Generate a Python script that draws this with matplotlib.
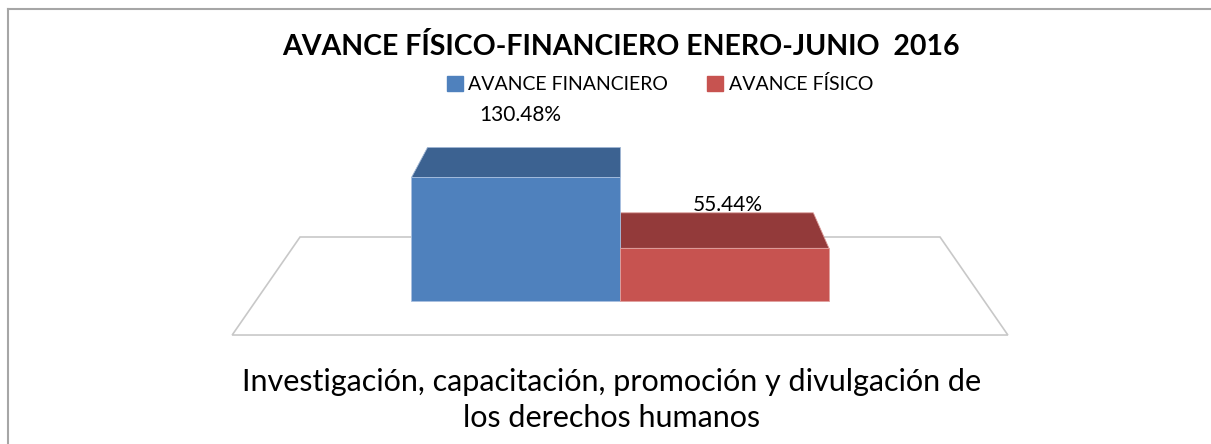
import matplotlib.pyplot as plt
from matplotlib.patches import Polygon, Patch
from matplotlib.lines import Line2D

plt.rcParams['font.family'] = ['Lato', 'DejaVu Sans']

# datos
titulo = 'AVANCE FÍSICO-FINANCIERO ENERO-JUNIO  2016'
categoria = 'Investigación, capacitación, promoción y divulgación de\nlos derechos humanos'
series = ['AVANCE FINANCIERO', 'AVANCE FÍSICO']
valores = [130.48, 55.44]
etiquetas = ['130.48%', '55.44%']

colores = ['#4f81bd', '#c75350']
colores_top = ['#3c6291', '#933a3a']

W, H = 1211, 444
fig = plt.figure(figsize=(W / 100, H / 100), dpi=100)
ax = fig.add_axes([0, 0, 1, 1])
ax.set_xlim(-2.967, 2.828)
ax.set_ylim(-150.5, 316.8)
ax.axis('off')

# proyeccion simple hacia un punto de fuga
vp = (0.0, 553.7)


def atras(x, y, k):
    return (vp[0] + k * (x - vp[0]), vp[1] + k * (y - vp[1]))


# piso
piso_x, piso_y, k_piso = 1.856, -35.8, 0.825
piso = [(-piso_x, piso_y), (piso_x, piso_y),
        atras(piso_x, piso_y, k_piso), atras(-piso_x, piso_y, k_piso)]
ax.add_patch(Polygon(piso, closed=True, facecolor='white', edgecolor='#c8c8c8',
                     lw=1.2, zorder=1))

# barras
k_bar = 0.925
x0s = [-1, 0]
for i, v in enumerate(valores):
    x0, x1 = x0s[i], x0s[i] + 1
    tapa = [(x0, v), (x1, v), atras(x1, v, k_bar), atras(x0, v, k_bar)]
    ax.add_patch(Polygon(tapa, closed=True, facecolor=colores_top[i],
                         edgecolor='#9fb5d3' if i == 0 else '#d99896', lw=0.6, zorder=2))
    ax.bar(x0, v, width=1, align='edge', color=colores[i],
           edgecolor='#a9c0e0' if i == 0 else '#e0a09e', lw=0.6, zorder=3)

# etiquetas de datos
dys = [62, 43]
dxs = [5, 3]
for i, v in enumerate(valores):
    ax.annotate(etiquetas[i], (x0s[i] + 0.5, v), xytext=(dxs[i], dys[i]),
                textcoords='offset pixels', ha='center', va='center',
                fontsize=15, color='black', zorder=5)

# titulo, leyenda, categoria
fig.text(621 / W, 1 - 46 / H, titulo, ha='center', va='center',
         fontsize=20.5, fontweight='bold')
handles = [Patch(color=c) for c in colores]
fig.legend(handles, series, loc='center', bbox_to_anchor=(660 / W, 1 - 84 / H),
           ncol=2, frameon=False, fontsize=14, handlelength=0.8, handleheight=0.8,
           handletextpad=0.3, columnspacing=2.0, borderpad=0)
fig.text(612 / W, 1 - 400 / H, categoria, ha='center', va='center',
         fontsize=22, linespacing=1.35)

# borde del area
fig.add_artist(Line2D([8 / W, 8 / W], [0, 1 - 9 / H], color='#a6a6a6', lw=1.5))
fig.add_artist(Line2D([8 / W, 1], [1 - 9 / H, 1 - 9 / H], color='#a6a6a6', lw=1.5))

fig.savefig('out.png', dpi=100)
